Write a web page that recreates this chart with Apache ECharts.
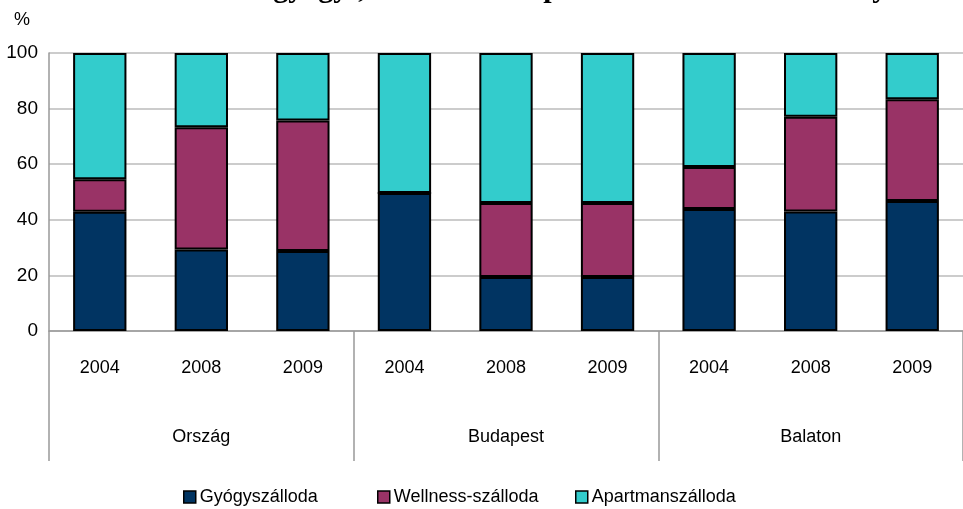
<!DOCTYPE html>
<html>
<head>
<meta charset="utf-8">
<script src="https://cdn.jsdelivr.net/npm/echarts@6/dist/echarts.min.js"></script>
<style>
  html, body { margin: 0; padding: 0; background: #fff; }
  #chart { width: 963px; height: 509px; }
</style>
</head>
<body>
<div id="chart"></div>
<script>
  // adatok (százalék)
  const groups = ['Ország', 'Budapest', 'Balaton'];
  const years = ['2004', '2008', '2009'];
  const gyogy = [42.9, 29.3, 28.8, 49.6, 19.4, 19.4, 43.9, 43.0, 46.8];
  const wellness = [11.7, 44.0, 46.9, 0, 26.6, 26.6, 15.1, 34.1, 36.6];
  const apartman = [45.4, 26.7, 24.3, 50.4, 54.0, 54.0, 41.0, 22.9, 16.6];
  const yTicks = [0, 20, 40, 60, 80, 100];

  const seriesNames = ['Gyógyszálloda', 'Wellness-szálloda', 'Apartmanszálloda'];
  const colors = ['#013462', '#993366', '#33CCCC'];

  // kategóriák: minden csoporthoz a három év
  const cats = [];
  groups.forEach(() => years.forEach((y) => cats.push(y)));

  const font = "'Liberation Sans Narrow', 'Arial Narrow', 'Liberation Sans', sans-serif";

  const chart = echarts.init(document.getElementById('chart'));

  const mkSeries = (name, data, color) => ({
    name: name,
    type: 'bar',
    stack: 'all',
    data: data,
    barWidth: '52.5%',
    itemStyle: { color: color, borderColor: '#000', borderWidth: 2 },
    emphasis: { disabled: true },
  });

  const mkLegend = (name, left) => ({
    data: [name],
    left: left,
    top: 483,
    icon: 'rect',
    itemWidth: 12,
    itemHeight: 12,
    itemGap: 0,
    itemStyle: { borderColor: '#000', borderWidth: 1.5 },
    textStyle: { fontFamily: font, fontSize: 18, color: '#000', padding: [0, 0, 0, -1] },
  });

  chart.setOption({
    animation: false,
    color: colors,
    title: {
      text: 'A gyógy-, wellness- és apartmanszállodák férőhelyeinek megoszlása',
      left: 239,
      top: -31,
      textStyle: { fontFamily: "'Liberation Serif', 'Times New Roman', serif", fontSize: 30, fontWeight: 'bold', color: '#000' },
    },
    legend: [
      mkLegend(seriesNames[0], 178),
      mkLegend(seriesNames[1], 372),
      mkLegend(seriesNames[2], 570),
    ],
    grid: { left: 49, top: 53, width: 925, height: 278, containLabel: false },
    xAxis: [
      {
        type: 'category',
        data: cats,
        axisLine: { lineStyle: { color: '#999', width: 1.5 } },
        axisTick: { show: false },
        axisLabel: { interval: 0, margin: 28, fontFamily: font, fontSize: 18, color: '#000' },
      },
      {
        type: 'category',
        data: groups,
        position: 'bottom',
        axisLine: { show: false },
        axisTick: { show: true, length: 130, lineStyle: { color: '#999', width: 1.5 } },
        axisLabel: { interval: 0, margin: 97, fontFamily: font, fontSize: 18, color: '#000' },
      },
    ],
    yAxis: {
      type: 'value',
      min: yTicks[0],
      max: yTicks[yTicks.length - 1],
      interval: 20,
      name: '%',
      nameLocation: 'end',
      nameGap: 24,
      nameTextStyle: { fontFamily: font, fontSize: 18, color: '#000', align: 'right', padding: [0, 19, 0, 0] },
      axisLine: { show: true, lineStyle: { color: '#999', width: 1.5 } },
      axisTick: { show: false },
      axisLabel: { margin: 11, fontFamily: font, fontSize: 19, color: '#000' },
      splitLine: { lineStyle: { color: '#bbb', width: 1.5 } },
    },
    series: [
      mkSeries(seriesNames[0], gyogy, colors[0]),
      mkSeries(seriesNames[1], wellness, colors[1]),
      mkSeries(seriesNames[2], apartman, colors[2]),
    ],
  });

  window.addEventListener('resize', () => chart.resize());
</script>
</body>
</html>
